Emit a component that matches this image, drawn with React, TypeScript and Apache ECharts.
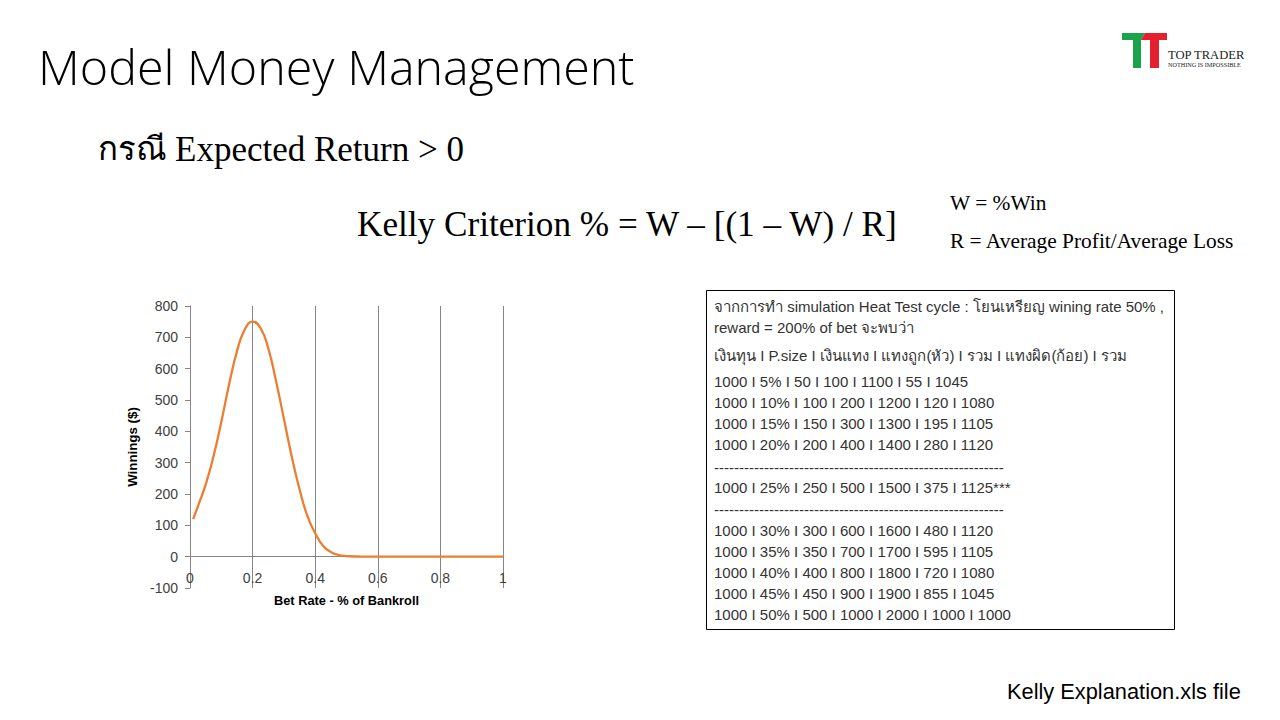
import React, { useEffect, useRef } from "react";
import * as echarts from "echarts";

// Chart data
const betRates = [0.01, 0.025, 0.05, 0.075, 0.1, 0.125, 0.15, 0.175, 0.2, 0.225, 0.25, 0.275, 0.3, 0.325, 0.35, 0.375, 0.4, 0.425, 0.45, 0.475, 0.5, 0.55, 0.6, 0.7, 0.8, 0.9, 1.0];
const winnings = [120, 160, 230, 320, 430, 550, 655, 725, 750, 730, 665, 560, 440, 320, 215, 130, 75, 35, 15, 5, 2, 0, 0, 0, 0, 0, 0];

const yMin = -100;
const yMax = 800;
const yStep = 100;
const xMin = 0;
const xMax = 1;
const xStep = 0.2;

const titleText = "Model Money Management";
const subtitleThai = "กรณี";
const subtitleText = "Expected Return > 0";
const formulaText = "Kelly Criterion % = W – [(1 – W) / R]";
const legendW = "W = %Win";
const legendR = "R = Average Profit/Average Loss";
const footerText = "Kelly Explanation.xls file";
const xAxisName = "Bet Rate - % of Bankroll";
const yAxisName = "Winnings ($)";

const tableLines = [
  "จากการทำ simulation Heat Test cycle : โยนเหรียญ wining rate 50% ,",
  "reward = 200% of bet จะพบว่า",
  "เงินทุน I P.size I เงินแทง I แทงถูก(หัว) I รวม I แทงผิด(ก้อย) I รวม",
  "1000 I 5% I 50 I 100 I 1100 I 55 I 1045",
  "1000 I 10% I 100 I 200 I 1200 I 120 I 1080",
  "1000 I 15% I 150 I 300 I 1300 I 195 I 1105",
  "1000 I 20% I 200 I 400 I 1400 I 280 I 1120",
  "----------------------------------------------------------",
  "1000 I 25% I 250 I 500 I 1500 I 375 I 1125***",
  "----------------------------------------------------------",
  "1000 I 30% I 300 I 600 I 1600 I 480 I 1120",
  "1000 I 35% I 350 I 700 I 1700 I 595 I 1105",
  "1000 I 40% I 400 I 800 I 1800 I 720 I 1080",
  "1000 I 45% I 450 I 900 I 1900 I 855 I 1045",
  "1000 I 50% I 500 I 1000 I 2000 I 1000 I 1000",
];
const tableLineY = [306, 327, 355, 381, 402, 423, 444, 467, 487, 509, 530, 551, 572, 593, 614];

export default function App() {
  const ref = useRef<HTMLDivElement>(null);
  useEffect(() => {
    if (!ref.current) return;
    const chart = echarts.init(ref.current, undefined, { renderer: "svg" });
    const serif = "'Liberation Serif', 'Times New Roman', serif";
    const sans = "'Liberation Sans', Arial, sans-serif";
    const graphics: any[] = [
      { type: "rect", shape: { x: 0, y: 0, width: 1280, height: 720 }, style: { fill: "#ffffff" }, z: -10 },
      { type: "text", x: 38, y: 66, style: { text: titleText, font: "300 48.4px 'Open Sans', sans-serif", fill: "#000000", verticalAlign: "middle" } },
      { type: "text", x: 98, y: 149, style: { text: subtitleThai, font: `33px ${serif}`, fill: "#000000", verticalAlign: "middle" } },
      { type: "text", x: 175, y: 149, style: { text: subtitleText, font: `35px ${serif}`, fill: "#000000", verticalAlign: "middle" } },
      { type: "text", x: 357, y: 224, style: { text: formulaText, font: `35.2px ${serif}`, fill: "#000000", verticalAlign: "middle" } },
      { type: "text", x: 950, y: 203, style: { text: legendW, font: `21.4px ${serif}`, fill: "#000000", verticalAlign: "middle" } },
      { type: "text", x: 950, y: 241, style: { text: legendR, font: `21.4px ${serif}`, fill: "#000000", verticalAlign: "middle" } },
      { type: "text", x: 1007, y: 691, style: { text: footerText, font: `21.8px ${sans}`, fill: "#000000", verticalAlign: "middle" } },
      // logo
      { type: "polygon", shape: { points: [[1122, 33], [1145, 33], [1141, 40], [1141, 68], [1133, 68], [1133, 40], [1122, 40]] }, style: { fill: "#1aa34a" } },
      { type: "polygon", shape: { points: [[1145, 33], [1167, 33], [1167, 40], [1159, 40], [1159, 68], [1150, 68], [1150, 40], [1141, 40]] }, style: { fill: "#e5202e" } },
      { type: "text", x: 1168, y: 55, style: { text: "TOP TRADER", font: `12.6px ${serif}`, fill: "#222222", verticalAlign: "middle" } },
      { type: "text", x: 1168, y: 64, style: { text: "NOTHING IS IMPOSSIBLE", font: `6.2px ${serif}`, fill: "#222222", verticalAlign: "middle" } },
      // table box
      { type: "rect", shape: { x: 706.5, y: 290.5, width: 468, height: 339 }, style: { fill: "#ffffff", stroke: "#000000", lineWidth: 1 } },
    ];
    tableLines.forEach((t, i) => {
      graphics.push({ type: "text", x: 714, y: tableLineY[i], z: 5, style: { text: t, font: `15px ${sans}`, fill: "#333333", verticalAlign: "middle" } });
    });

    const gridTop = 306;
    const gridHeight = 282;
    const zeroOffset = -gridHeight * (0 - yMin) / (yMax - yMin);

    chart.setOption({
      animation: false,
      backgroundColor: "#ffffff",
      grid: { left: 190, top: gridTop, width: 313, height: gridHeight },
      xAxis: {
        type: "value",
        min: xMin,
        max: xMax,
        interval: xStep,
        name: xAxisName,
        nameLocation: "middle",
        nameGap: 37,
        offset: zeroOffset,
        nameTextStyle: { fontFamily: sans, fontWeight: "bold", fontSize: 12.8, color: "#000000" },
        axisLine: { onZero: false, lineStyle: { color: "#868686", width: 1 } },
        axisTick: { show: false },
        axisLabel: { fontFamily: sans, fontSize: 14, color: "#404040", margin: 14 },
        splitLine: { show: true, lineStyle: { color: "#868686", width: 1 } },
      },
      yAxis: {
        type: "value",
        min: yMin,
        max: yMax,
        interval: yStep,
        name: yAxisName,
        nameLocation: "middle",
        nameGap: 51,
        nameRotate: 90,
        nameTextStyle: { fontFamily: sans, fontWeight: "bold", fontSize: 13.3, color: "#000000" },
        axisLine: { show: true, onZero: false, lineStyle: { color: "#868686", width: 1 } },
        axisTick: { show: true, inside: false, length: 5, lineStyle: { color: "#868686" } },
        axisLabel: { fontFamily: sans, fontSize: 14, color: "#404040", margin: 12 },
        splitLine: { show: false },
      },
      series: [
        {
          type: "line",
          data: betRates.map((x, i) => [x, winnings[i]]),
          smooth: true,
          showSymbol: false,
          lineStyle: { color: "#ED7D31", width: 2.3 },
          itemStyle: { color: "#ED7D31" },
        },
      ],
      graphic: graphics,
    });
    return () => chart.dispose();
  }, []);
  return <div ref={ref} style={{ position: "absolute", left: 0, top: 0, width: 1280, height: 720 }} />;
}
